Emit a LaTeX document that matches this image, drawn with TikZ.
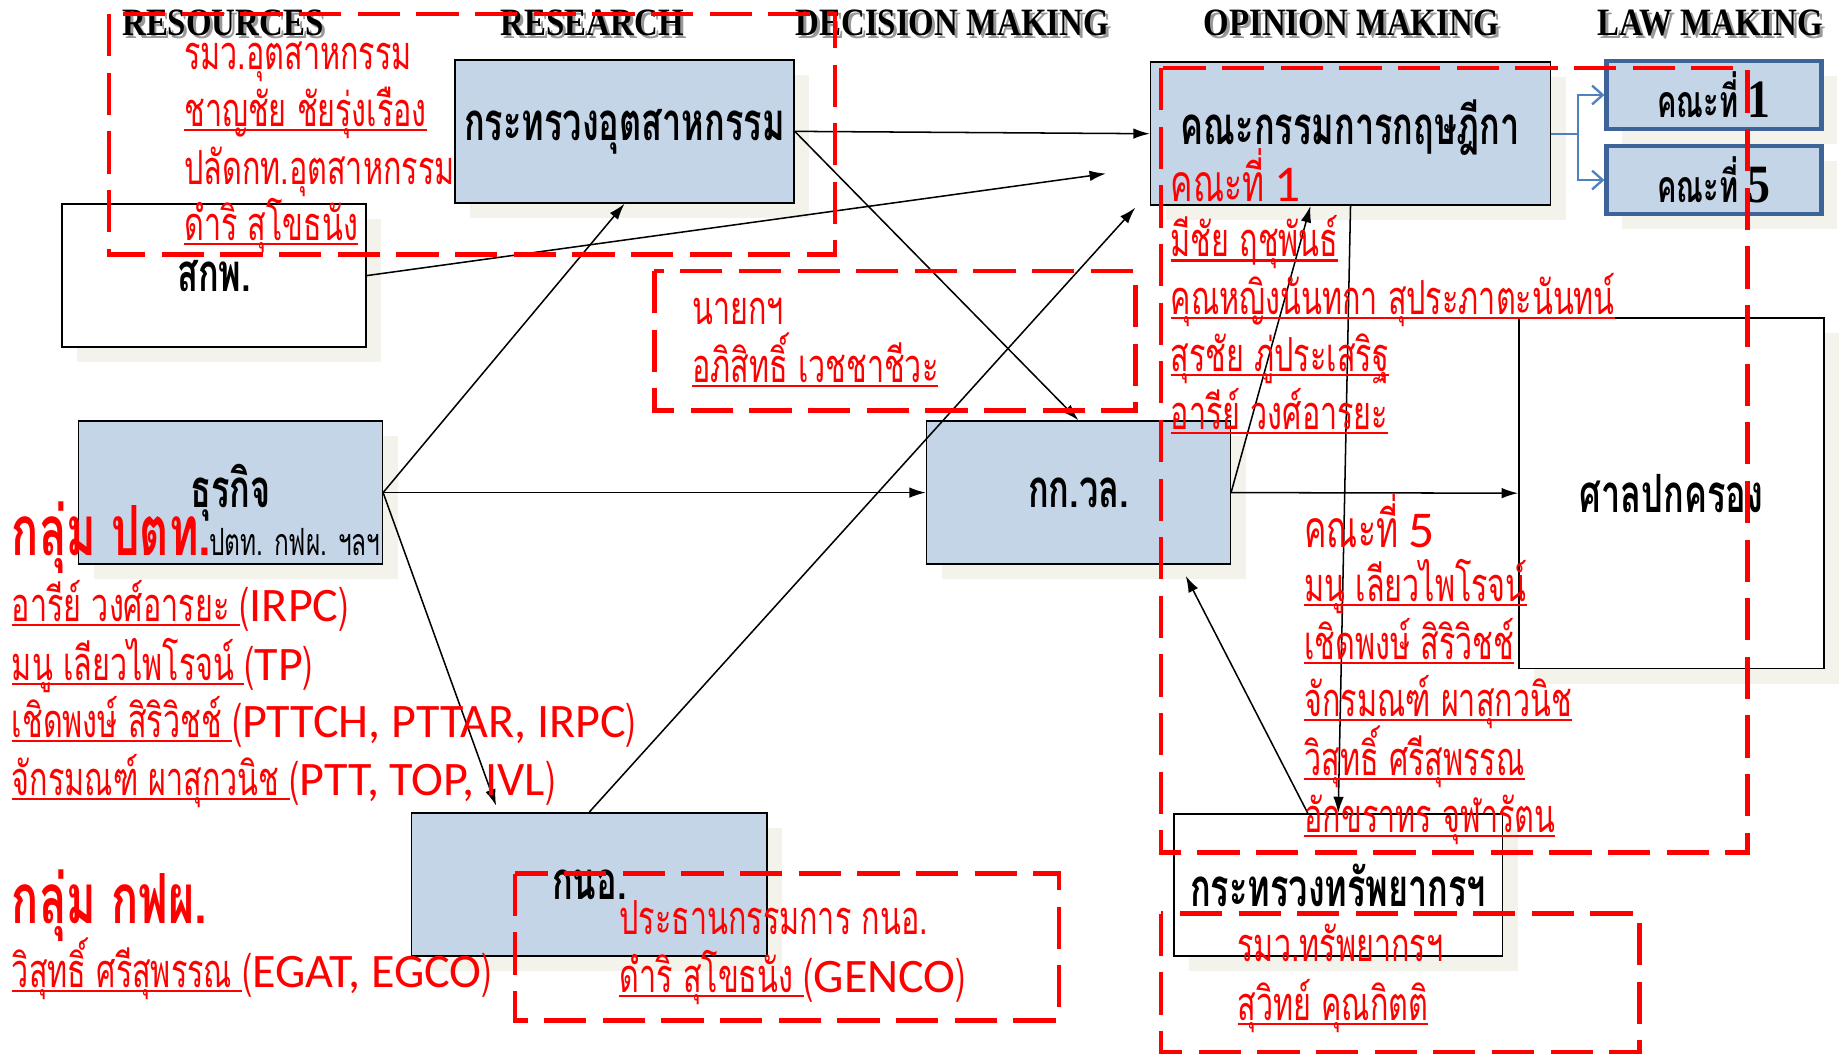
\documentclass[tikz,border=0pt]{standalone}
\usepackage{fontspec}
\setmainfont{Liberation Serif}
\newfontfamily\headfont[FakeStretch=0.85]{Liberation Serif}
\newfontfamily\thai[Script=Thai,FakeStretch=0.65]{Loma}
\newfontfamily\latn{Carlito}
\usetikzlibrary{arrows.meta,positioning,shadows}
\definecolor{boxblue}{HTML}{C5D5E8}
\definecolor{lawblue}{HTML}{3D6399}
\definecolor{linkblue}{HTML}{4F81BD}
\definecolor{ghost}{HTML}{F3F3EC}
\newcommand\undl[1]{\setbox0\hbox{#1}\rlap{\rule[-4pt]{\wd0}{1.8pt}}\box0}
\newcommand\org[1]{({\latn\fontsize{41}{41}\selectfont #1})}
\newcommand\embossed[1]{\rlap{\kern2.5pt\raisebox{-2.5pt}{\color{black!40}#1}}#1}
\newcommand\panel[1]{{\fontsize{44}{46}\selectfont คณะที่} {\latn\fontsize{44}{44}\selectfont #1}}
\tikzset{
  orgbox/.style={rectangle,draw,line width=1.3pt,inner sep=0pt,
    minimum width=259pt,minimum height=122pt,
    font=\thai\bfseries\fontsize{45}{48}\selectfont,
    general shadow={fill=ghost,shadow xshift=13pt,shadow yshift=-13pt}},
  agency/.style={orgbox,fill=boxblue},
  office/.style={orgbox,fill=white},
  lawbox/.style={orgbox,fill=boxblue,draw=lawblue,line width=4pt,
    minimum width=183pt,minimum height=58pt,
    font=\thai\bfseries\fontsize{38}{40}\selectfont},
  redbox/.style={draw=red,line width=4pt,dash pattern=on 36pt off 14pt},
  person/.style={anchor=base west,inner sep=0pt,text=red,
    font=\thai\fontsize{40}{44}\selectfont},
  group/.style={person,font=\thai\bfseries\fontsize{59}{62}\selectfont},
  heading/.style={inner sep=0pt,font=\headfont\bfseries\fontsize{33}{36}\selectfont},
  flow/.style={->,line width=1.3pt},
  link/.style={-{Straight Barb[length=9pt,width=16pt]},draw=linkblue,line width=2pt}
}
\begin{document}
\begin{tikzpicture}[x=1pt,y=-1pt,>={Latex[length=14pt,width=9pt]}]
\useasboundingbox (0,0) rectangle (1568,900);

% stages
\node[heading] (resources) at (190,21) {\embossed{RESOURCES}};
\node[heading] (research) at (505,21) {\embossed{RESEARCH}};
\node[heading] (decision) at (812,21) {\embossed{DECISION MAKING}};
\node[heading] (opinion) at (1152,21) {\embossed{OPINION MAKING}};
\node[heading] (lawmaking) at (1458,21) {\embossed{LAW MAKING}};

% boxes
\node[agency,minimum width=289pt] (moi) at (532.5,112) {กระทรวงอุตสาหกรรม};
\node[office] (erc) at (182.5,235) {สกพ.};
\node[agency] (biz) at (196.5,420) {ธุรกิจ};
\node[agency] (neb) at (919.5,420) {กก.วล.};
\node[agency,minimum width=303pt] (ieat) at (502.5,754) {กนอ.};
\node[agency,minimum width=341pt] (krisdika) at (1151.5,114) {\raisebox{5pt}[\height][\depth]{คณะกรรมการกฤษฎีกา}};
\node[lawbox] (c1) at (1461.5,81) {คณะที่ {\headfont\bfseries\fontsize{46}{46}\selectfont 1}};
\node[lawbox] (c5) at (1461.5,153.5) {คณะที่ {\headfont\bfseries\fontsize{46}{46}\selectfont 5}};
\node[office,minimum width=260pt,minimum height=299pt] (court) at (1425,420.5) {ศาลปกครอง};
\node[office,minimum width=280pt,minimum height=121pt] (mnre) at (1141,754.5) {กระทรวงทรัพยากรฯ};
\node[anchor=base west,inner sep=0pt,font=\thai\fontsize{32}{34}\selectfont] (bizsub) at (178,474) {ปตท. กฟผ. ฯลฯ};

% free ends
\coordinate (k2) at (943,148);
\coordinate (k1) at (968,177);
\coordinate (i1) at (423,687);
\coordinate (n1) at (1011,491);

\path[flow]
  (moi.east) edge (krisdika.west)
  (moi.east) edge (neb.north)
  (erc.east) edge (k2)
  (biz.east) edge (moi.south)
  (biz.east) edge (neb.west)
  (biz.east) edge (i1)
  (ieat.north) edge (k1)
  (neb.east) edge (krisdika.241)
  (neb.east) edge (court.west)
  (krisdika.south) edge (mnre.north)
  (mnre.113) edge (n1);

\draw[link] (krisdika.east) -- ++(23,0) |- (c1.west);
\draw[link] (krisdika.east) -- ++(23,0) |- (c5.west);

% groups of people
\draw[redbox] (93,12) rectangle (712,217);
\draw[redbox] (558,231) rectangle (968,350);
\draw[redbox] (990,58) rectangle (1490,727);
\draw[redbox] (439,745) rectangle (903,870);
\draw[redbox] (990,779) rectangle (1398,897);

\node[person] (r1) at (157,59) {รมว.อุตสาหกรรม};
\node[person] (r2) at (157,108) {\undl{ชาญชัย ชัยรุ่งเรือง}};
\node[person] (r3) at (157,157) {ปลัดกท.อุตสาหกรรม};
\node[person] (r4) at (157,205) {\undl{ดำริ สุโขธนัง}};

\node[person] (pm1) at (590,277) {นายกฯ};
\node[person] (pm2) at (590,326) {\undl{อภิสิทธิ์ เวชชาชีวะ}};

\node[person] (k1a) at (998,172) {\panel{1}};
\node[person] (k1b) at (998,219) {\undl{มีชัย ฤชุพันธ์}};
\node[person] (k1c) at (998,268) {\undl{คุณหญิงนันทกา สุประภาตะนันทน์}};
\node[person] (k1d) at (998,317) {\undl{สุรชัย ภู่ประเสริฐ}};
\node[person] (k1e) at (998,366) {\undl{อารีย์ วงศ์อารยะ}};

\node[person] (k5a) at (1112,467) {\panel{5}};
\node[person] (k5b) at (1112,513) {\undl{มนู เลียวไพโรจน์}};
\node[person] (k5c) at (1112,562) {\undl{เชิดพงษ์ สิริวิชช์}};
\node[person] (k5d) at (1112,611) {\undl{จักรมณฑ์ ผาสุกวนิช}};
\node[person] (k5e) at (1112,661) {\undl{วิสุทธิ์ ศรีสุพรรณ}};
\node[person] (k5f) at (1112,710) {\undl{อักขราทร จุฬารัตน}};

\node[person] (ie1) at (528,797) {ประธานกรรมการ กนอ.};
\node[person] (ie2) at (528,846) {\undl{ดำริ สุโขธนัง\ }\org{GENCO}};

\node[person] (mn1) at (1055,820) {รมว.ทรัพยากรฯ};
\node[person] (mn2) at (1055,870) {\undl{สุวิทย์ คุณกิตติ}};

\node[group] (ptt) at (10,474) {กลุ่ม ปตท.};
\node[person] (p1) at (10,530) {\undl{อารีย์ วงศ์อารยะ\ }\org{IRPC}};
\node[person] (p2) at (10,580) {\undl{มนู เลียวไพโรจน์\ }\org{TP}};
\node[person] (p3) at (10,629) {\undl{เชิดพงษ์ สิริวิชช์\ }\org{PTTCH, PTTAR, IRPC}};
\node[person] (p4) at (10,678) {\undl{จักรมณฑ์ ผาสุกวนิช\ }\org{PTT, TOP, IVL}};
\node[group] (egat) at (10,787) {กลุ่ม กฟผ.};
\node[person] (e1) at (10,842) {\undl{วิสุทธิ์ ศรีสุพรรณ\ }\org{EGAT, EGCO}};
\end{tikzpicture}
\end{document}
